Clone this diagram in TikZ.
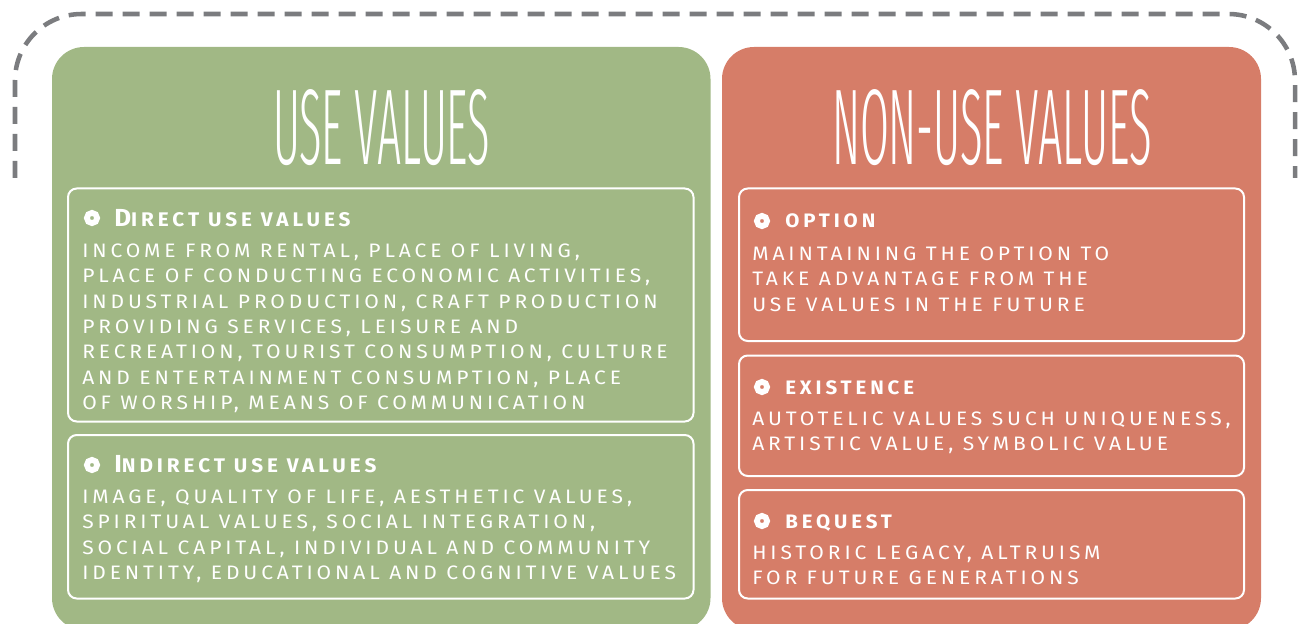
\documentclass[tikz,border=0pt]{standalone}
\usepackage{fontspec}
\usepackage{graphicx}
\setmainfont{Fira Sans}
\newfontfamily\bodyfont{Fira Sans}[LetterSpace=20, FakeStretch=1.08]
\newfontfamily\headfont{Fira Sans}[LetterSpace=20, FakeStretch=1.05]
\IfFontExistsTF{Fira Sans Extra Condensed Light}
  {\newfontfamily\titlefont{Fira Sans Extra Condensed Light}}
  {\IfFontExistsTF{Fira Sans Condensed Light}
    {\newfontfamily\titlefont{Fira Sans Condensed Light}}
    {\IfFontExistsTF{Fira Sans Light}
      {\newfontfamily\titlefont{Fira Sans Light}}
      {\newfontfamily\titlefont{Fira Sans}}}}

\definecolor{usegreen}{HTML}{A1B885}
\definecolor{nonusered}{HTML}{D67D68}
\definecolor{framegray}{HTML}{7B7C7F}

\tikzset{
  panel/.style={fill=#1, rounded corners=24pt},
  itembox/.style={draw=white, line width=1.5pt, rounded corners=6.5pt},
  bullet/.style={circle, draw=white, line width=4.3pt, fill=#1, inner sep=0pt, minimum size=7.7pt},
  itemhead/.style={anchor=base west, inner sep=0pt, text=white, font=\headfont\bfseries\fontsize{14.6}{18}\selectfont},
  itemtext/.style={anchor=north west, inner sep=0pt, text=white, align=left, font=\bodyfont\fontsize{14.6}{19}\selectfont},
  paneltitle/.style={inner sep=0pt, text=white, font=\titlefont\fontsize{80}{80}\selectfont}
}

\newcommand{\titlebox}[2]{\resizebox{#1}{56.25pt}{#2}}
\newcommand{\smallcapshead}[2]{{\fontsize{18.5}{18}\selectfont #1}{\fontsize{14.8}{18}\selectfont #2}}

\begin{document}
\begin{tikzpicture}[x=0.75pt,y=0.75pt,yscale=-1,xscale=1]
\clip (0,0) rectangle (1299,624);

%Dashed frame
\draw[framegray, line width=3.4pt, dash pattern=on 12.75pt off 7.5pt, rounded corners=50pt] (15,178) -- (15,14) -- (1295,14) -- (1295,178);

%Shape: Panels
\fill[panel=usegreen] (52,47) rectangle (710.5,630);
\fill[panel=nonusered] (722,47) rectangle (1261,630);

%Shape: Item boxes
\draw[itembox] (68,188.5) rectangle (693.5,421.5);
\draw[itembox] (68,435) rectangle (693.5,598.5);
\draw[itembox] (739,188.5) rectangle (1244,341);
\draw[itembox] (739,355.5) rectangle (1244,476);
\draw[itembox] (739,490) rectangle (1244,598.5);

% Titles
\node[paneltitle] (usetitle) at (381.5,127.5) {\titlebox{162.75pt}{USE VALUES}};
\node[paneltitle] (nonusetitle) at (992,127.5) {\titlebox{240pt}{NON-USE VALUES}};

% Use values
\node[bullet=usegreen] (directbullet) at (92,218) {};
\node[itemhead] (directhead) at (114,226) {\smallcapshead{D}{IRECT USE VALUES}};
\node[itemtext] (directtext) at (82,243.5) {INCOME FROM RENTAL, PLACE OF LIVING,\\
PLACE OF CONDUCTING ECONOMIC ACTIVITIES,\\
INDUSTRIAL PRODUCTION, CRAFT PRODUCTION\\
PROVIDING SERVICES, LEISURE AND\\
RECREATION, TOURIST CONSUMPTION, CULTURE\\
AND ENTERTAINMENT CONSUMPTION, PLACE\\
OF WORSHIP, MEANS OF COMMUNICATION};

\node[bullet=usegreen] (indirectbullet) at (92,465) {};
\node[itemhead] (indirecthead) at (114,472.5) {\smallcapshead{I}{NDIRECT USE VALUES}};
\node[itemtext] (indirecttext) at (82,489.5) {IMAGE, QUALITY OF LIFE, AESTHETIC VALUES,\\
SPIRITUAL VALUES, SOCIAL INTEGRATION,\\
SOCIAL CAPITAL, INDIVIDUAL AND COMMUNITY\\
IDENTITY, EDUCATIONAL AND COGNITIVE VALUES};

% Non-use values
\node[bullet=nonusered] (optionbullet) at (762,221) {};
\node[itemhead] (optionhead) at (785,228) {OPTION};
\node[itemtext] (optiontext) at (752,246.5) {MAINTAINING THE OPTION TO\\
TAKE ADVANTAGE FROM THE\\
USE VALUES IN THE FUTURE};

\node[bullet=nonusered] (existencebullet) at (762,387) {};
\node[itemhead] (existencehead) at (785,394) {EXISTENCE};
\node[itemtext] (existencetext) at (752,411.5) {AUTOTELIC VALUES SUCH UNIQUENESS,\\
ARTISTIC VALUE, SYMBOLIC VALUE};

\node[bullet=nonusered] (bequestbullet) at (762,521) {};
\node[itemhead] (bequesthead) at (785,528) {BEQUEST};
\node[itemtext] (bequesttext) at (752,545.5) {HISTORIC LEGACY, ALTRUISM\\
FOR FUTURE GENERATIONS};

\end{tikzpicture}
\end{document}
